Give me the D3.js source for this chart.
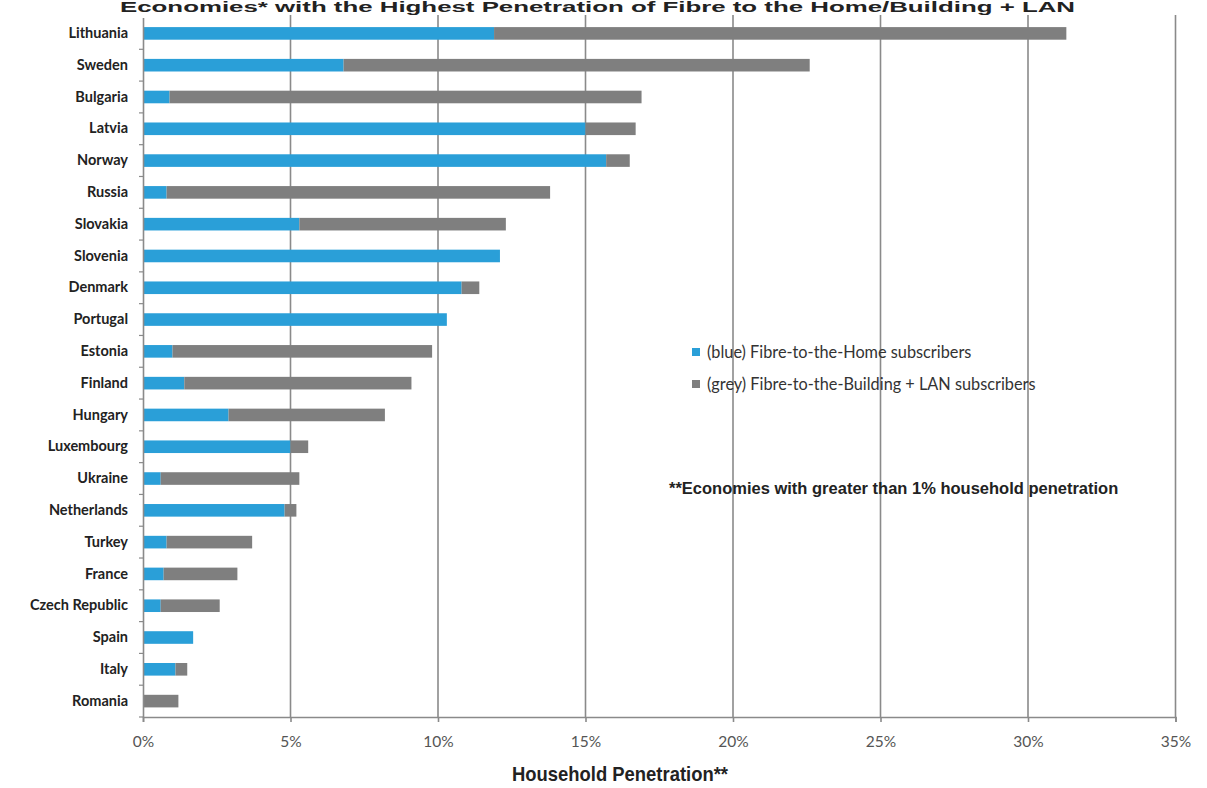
<!DOCTYPE html>
<html>
<head>
<meta charset="utf-8">
<script src="https://cdn.jsdelivr.net/npm/d3@7"></script>
<style>
  html, body { margin: 0; padding: 0; background: #fff; }
  svg { display: block; }
</style>
</head>
<body>
<svg id="chart" width="1207" height="788"></svg>
<script>
// Economies ranked by total fibre penetration (top to bottom)
const countries = [
  "Lithuania", "Sweden", "Bulgaria", "Latvia", "Norway", "Russia", "Slovakia",
  "Slovenia", "Denmark", "Portugal", "Estonia", "Finland", "Hungary",
  "Luxembourg", "Ukraine", "Netherlands", "Turkey", "France",
  "Czech Republic", "Spain", "Italy", "Romania"
];
// Fibre-to-the-Home share of households (%)
const ftth = [11.9, 6.8, 0.9, 15.0, 15.7, 0.8, 5.3, 12.1, 10.8, 10.3, 1.0, 1.4,
  2.9, 5.0, 0.6, 4.8, 0.8, 0.7, 0.6, 1.7, 1.1, 0.0];
// Fibre-to-the-Building + LAN share of households (%)
const fttbLan = [19.4, 15.8, 16.0, 1.7, 0.8, 13.0, 7.0, 0.0, 0.6, 0.0, 8.8, 7.7,
  5.3, 0.6, 4.7, 0.4, 2.9, 2.5, 2.0, 0.0, 0.4, 1.2];
const xTicks = [0, 5, 10, 15, 20, 25, 30, 35];
const seriesNames = ["(blue) Fibre-to-the-Home subscribers", "(grey) Fibre-to-the-Building + LAN subscribers"];
const seriesColors = ["#2a9fd8", "#7f7f7f"];

const rows = countries.map((c, i) => ({ country: c, ftth: ftth[i], fttb: fttbLan[i] }));
const stack = d3.stack().keys(["ftth", "fttb"])(rows);

const svg = d3.select("#chart");
const m = { left: 143, right: 1175.5, top: 17.5, bottom: 717 };

const x = d3.scaleLinear().domain([0, 35]).range([m.left, m.right]);
const yStep = d3.scaleBand().domain(countries).range([m.top, m.bottom]);
const barH = 12.6;

// Title strip above the plot
svg.append("text")
  .attr("x", 120).attr("y", 12)
  .attr("textLength", 955).attr("lengthAdjust", "spacingAndGlyphs")
  .attr("font-family", "Liberation Sans, Arial, sans-serif")
  .attr("font-weight", "bold").attr("font-size", 14)
  .attr("fill", "#222")
  .text("Economies* with the Highest Penetration of Fibre to the Home/Building + LAN");

// Vertical gridlines
svg.append("g").selectAll("line")
  .data(xTicks.filter(t => t > 0))
  .join("line")
  .attr("x1", d => x(d)).attr("x2", d => x(d))
  .attr("y1", 15).attr("y2", m.bottom)
  .attr("stroke", "#8a8a8a").attr("stroke-width", 1.6);

// Stacked bars
svg.append("g").selectAll("g")
  .data(stack)
  .join("g")
  .attr("fill", (d, i) => seriesColors[i])
  .selectAll("rect")
  .data(d => d.map(v => ({ v, country: v.data.country })))
  .join("rect")
  .attr("x", d => x(d.v[0]))
  .attr("width", d => Math.max(0, x(d.v[1]) - x(d.v[0])))
  .attr("y", d => yStep(d.country) + yStep.bandwidth() / 2 - barH / 2)
  .attr("height", barH);

// Bottom axis
const xAxis = d3.axisBottom(x).tickValues(xTicks).tickFormat(d => d + "%").tickSize(5).tickPadding(14);
const gx = svg.append("g").attr("transform", `translate(0,${m.bottom})`).call(xAxis);
gx.select(".domain").attr("stroke", "#8a8a8a").attr("stroke-width", 1.6);
gx.selectAll(".tick line").attr("stroke", "#8a8a8a").attr("stroke-width", 1.6);
gx.selectAll(".tick text")
  .attr("font-family", "Lato, sans-serif").attr("font-size", 15.5)
  .attr("fill", "#555");

// Left category axis
const yAxis = d3.axisLeft(yStep).tickSize(0).tickPadding(15);
const gy = svg.append("g").attr("transform", `translate(${m.left},0)`).call(yAxis);
gy.select(".domain").attr("stroke", "#8a8a8a").attr("stroke-width", 1.6);
gy.selectAll(".tick text")
  .attr("font-family", "Lato, sans-serif").attr("font-weight", "bold").attr("font-size", 14.5)
  .attr("fill", "#222");
// Band-boundary ticks on the category axis
const bounds = countries.map(c => yStep(c)).slice(1).concat([m.bottom]);
gy.append("g").selectAll("line")
  .data(bounds)
  .join("line")
  .attr("x1", -4).attr("x2", 0)
  .attr("y1", d => d).attr("y2", d => d)
  .attr("stroke", "#8a8a8a").attr("stroke-width", 1.2);

// Axis title
svg.append("text")
  .attr("x", 512).attr("y", 781)
  .attr("textLength", 216).attr("lengthAdjust", "spacingAndGlyphs")
  .attr("font-family", "Liberation Sans, Arial, sans-serif")
  .attr("font-weight", "bold").attr("font-size", 21)
  .attr("fill", "#222")
  .text("Household Penetration**");

// Legend
const legend = svg.append("g").attr("transform", "translate(692,352)");
seriesNames.forEach((name, i) => {
  const g = legend.append("g").attr("transform", `translate(0,${i * 32})`);
  g.append("rect").attr("x", 0).attr("y", -4).attr("width", 8).attr("height", 8).attr("fill", seriesColors[i]);
  g.append("text").attr("x", 15).attr("y", 0).attr("dy", "0.35em")
    .attr("font-family", "Lato, sans-serif").attr("font-size", 16.3)
    .attr("fill", "#333").text(name);
});

// Footnote
svg.append("text")
  .attr("x", 669).attr("y", 494)
  .attr("font-family", "Liberation Sans, Arial, sans-serif")
  .attr("font-weight", "bold").attr("font-size", 16.5)
  .attr("fill", "#222")
  .text("**Economies with greater than 1% household penetration");
</script>
</body>
</html>
